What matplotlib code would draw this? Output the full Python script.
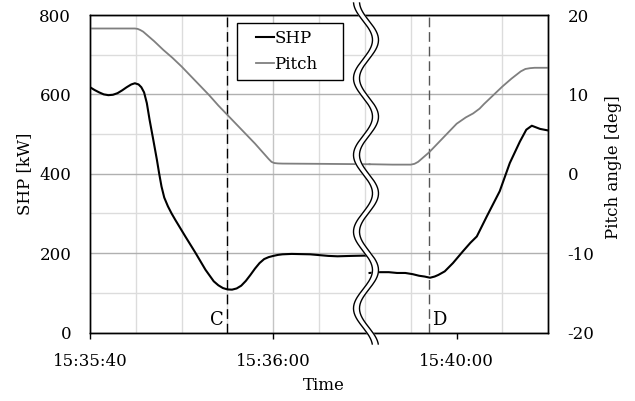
import numpy as np
import matplotlib
matplotlib.use("Agg")
from matplotlib import pyplot as plt
from matplotlib.ticker import MultipleLocator
from matplotlib.patches import Rectangle

plt.rcParams['font.family'] = ['DejaVu Serif']
plt.rcParams['axes.unicode_minus'] = False

# left part: seconds after 15:35:40
t_left = [0, 0.5, 1, 1.5, 2, 2.5, 3, 3.5, 4, 4.5, 4.9, 5.3, 5.6, 5.9, 6.2, 6.5, 6.9,
          7.3, 7.55, 7.8, 8.1, 8.5, 8.9, 9.3, 10.4, 11.5, 12.6, 13.5, 14, 14.5, 15,
          15.5, 16, 16.5, 17, 17.5, 18, 18.5, 19, 19.5, 20, 20.5, 21, 22, 24, 26, 27,
          28.5, 30.5]
shp_left = [618, 611, 605, 600, 598, 599, 603, 610, 618, 625, 628, 625, 618, 605, 578,
            536, 486, 435, 400, 368, 340, 318, 300, 284, 242, 201, 158, 129, 119, 112,
            108.5, 108, 111, 118, 130, 145, 161, 175, 185, 190, 193, 195.5, 197, 198,
            197, 193, 192, 193, 194]

tp_left = [0, 4.9, 5.2, 5.5, 5.8, 6.2, 7, 8, 9, 10, 11, 12, 13, 14, 15, 16, 17, 18,
           19, 19.5, 19.8, 20.1, 20.5, 21, 25, 30.5]
pitch_left = [18.3, 18.3, 18.25, 18.1, 17.9, 17.5, 16.7, 15.6, 14.6, 13.5, 12.3, 11.1,
              9.9, 8.6, 7.4, 6.2, 5.0, 3.8, 2.5, 1.85, 1.5, 1.35, 1.3, 1.28, 1.25, 1.2]

# right part: seconds after 15:39:50
t_right = [0.5, 1.5, 2.6, 3.5, 4.4, 5.2, 5.9, 6.5, 7.1, 7.6, 8.0, 8.7, 9.6, 10.7,
           11.5, 12.2, 13.3, 14.7, 15.8, 16.9, 17.6, 18.2, 19.1, 20]
shp_right = [150, 152, 152, 150, 150, 147, 143, 141, 138, 141, 145, 154, 175, 205,
             226, 242, 293, 356, 427, 481, 511, 521, 513, 509]

tp_right = [0.5, 3, 5, 5.4, 5.8, 6.3, 7, 8, 9, 10, 11, 11.8, 12.5, 13, 14, 15, 16, 17,
            17.5, 18, 18.5, 20]
pitch_right = [1.2, 1.15, 1.15, 1.25, 1.5, 2.0, 2.7, 3.9, 5.1, 6.3, 7.1, 7.6, 8.2, 8.8,
               9.9, 11.0, 12.0, 12.9, 13.2, 13.3, 13.35, 13.35]

break_at = 30          # axis position where 15:39:50 starts
events = [15, 37]      # C = 15:35:55, D = 15:39:57 (axis seconds)
event_names = ['C', 'D']
tick_pos = [0, 20, 40]
tick_labels = ['15:35:40', '15:36:00', '15:40:00']

W, H = 635, 401
fig = plt.figure(figsize=(W / 100, H / 100), dpi=100)
ax = fig.add_axes([90 / W, (H - 332.5) / H, 458.3 / W, 317.5 / H])
ax2 = ax.twinx()

ax.plot(t_left, shp_left, color='black', lw=1.5)
ax.plot(np.array(t_right) + break_at, shp_right, color='black', lw=1.5)
ax2.plot(tp_left, pitch_left, color='#7f7f7f', lw=1.3)
ax2.plot(np.array(tp_right) + break_at, pitch_right, color='#7f7f7f', lw=1.3)

ax.set_xlim(0, 50)
ax.set_ylim(0, 800)
ax2.set_ylim(-20, 20)
ax.set_xticks(tick_pos)
ax.set_xticklabels(tick_labels)
ax.xaxis.set_minor_locator(MultipleLocator(5))
ax.yaxis.set_major_locator(MultipleLocator(200))
ax.yaxis.set_minor_locator(MultipleLocator(100))
ax2.yaxis.set_major_locator(MultipleLocator(10))

ax.grid(True, which='minor', color='#dcdcdc', lw=1)
ax.grid(True, which='major', axis='y', color='#b0b0b0', lw=1)
ax.axvline(20, color='#c4c4c4', lw=1, zorder=0.9)

ax.tick_params(axis='x', which='major', direction='out', length=4, width=1, pad=11, labelsize=12)
ax.tick_params(axis='x', which='minor', length=0)
ax.tick_params(axis='y', which='both', length=0, pad=13.5, labelsize=12)
ax2.tick_params(axis='y', length=0, pad=14, labelsize=12)
for a in (ax, ax2):
    for s in a.spines.values():
        s.set_color('black')
        s.set_linewidth(1)

ax.set_ylabel('SHP [kW]', fontsize=12)
ax.yaxis.set_label_coords((33 - 90) / 458.3, 0.5)
ax2.set_ylabel('Pitch angle [deg]', fontsize=12)
ax2.yaxis.set_label_coords((605 - 90) / 458.3, 0.52)
ax.set_xlabel('Time', fontsize=12)
ax.xaxis.set_label_coords(0.511, -0.14)

# event lines
ax.axvline(events[0], color='black', lw=1, ls=(0, (7, 3.5)), zorder=3)
ax.axvline(events[1], color='#555555', lw=1, ls=(0, (7, 3.5)), zorder=3)
ax.annotate(event_names[0], xy=(events[0], 0), xycoords=('data', 'axes fraction'),
            xytext=(-3, 5.5), textcoords='offset points', ha='right', va='baseline', fontsize=13)
ax.annotate(event_names[1], xy=(events[1], 0), xycoords=('data', 'axes fraction'),
            xytext=(2, 5.5), textcoords='offset points', ha='left', va='baseline', fontsize=13)

# axis break (wavy band)
yy = np.linspace(3, 344, 300)
xc = 366 + 9.5 * np.sin(2 * np.pi * (yy - 20.8) / 76.7)
fx_l, fx_r = (xc - 3) / W, (xc + 3) / W
fy = 1 - yy / H
ax2.fill(np.concatenate([fx_l, fx_r[::-1]]), np.concatenate([fy, fy[::-1]]),
         color='white', transform=fig.transFigure, clip_on=False, zorder=10)
ax2.plot(fx_l, fy, color='black', lw=1.0, transform=fig.transFigure, clip_on=False, zorder=11)
ax2.plot(fx_r, fy, color='black', lw=1.0, transform=fig.transFigure, clip_on=False, zorder=11)

# legend
box = Rectangle((237 / W, 1 - 80 / H), 106 / W, 57 / H, transform=fig.transFigure,
                facecolor='white', edgecolor='black', lw=1, clip_on=False, zorder=8)
ax2.add_patch(box)
h1 = plt.Line2D([], [], color='black', lw=1.5)
h2 = plt.Line2D([], [], color='#7f7f7f', lw=1.3)
leg = ax2.legend([h1, h2], ['SHP', 'Pitch'], loc='upper left',
                 bbox_to_anchor=(256 / W, 1 - 30 / H), bbox_transform=fig.transFigure,
                 frameon=False, borderpad=0, borderaxespad=0, handlelength=1.1,
                 handletextpad=0.0, labelspacing=0.55, fontsize=12)
leg.set_zorder(9)

fig.savefig('out.png', dpi=100)
